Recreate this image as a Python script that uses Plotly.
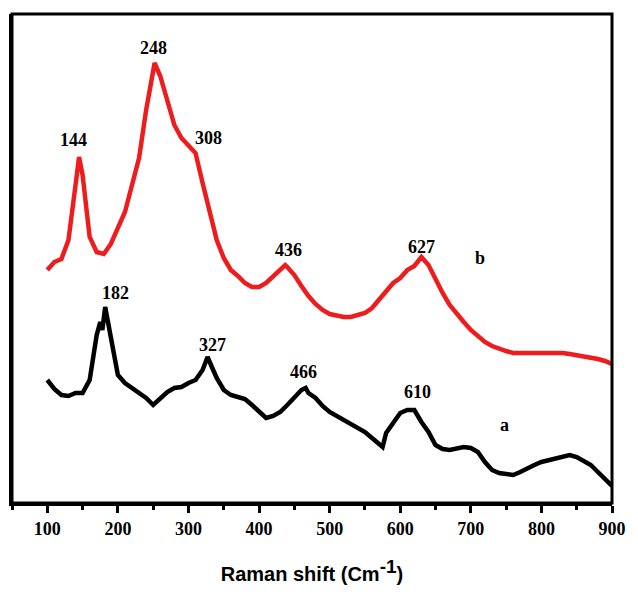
import plotly.graph_objects as go

# Raman shift (cm^-1)
shift_b = [100, 110, 120, 130, 140, 145, 150, 160, 170, 180, 190, 200, 210, 220, 230, 240, 250, 252,
           260, 270, 280, 290, 300, 310, 320, 330, 340, 350, 360, 370, 380, 390, 400, 410, 420, 430,
           437, 440, 450, 460, 470, 480, 490, 500, 510, 520, 530, 540, 550, 560, 570, 580, 590, 600,
           610, 620, 630, 640, 650, 660, 670, 680, 690, 700, 710, 720, 730, 740, 750, 760, 770, 780,
           790, 800, 810, 820, 830, 840, 850, 860, 870, 880, 890, 900]
# intensity (a.u.) of sample b (red)
int_b = [233, 241, 244, 263, 318, 346, 328, 266, 251, 249, 259, 275, 291, 318, 345, 393, 435, 440,
         427, 403, 378, 365, 358, 350, 320, 293, 263, 245, 233, 227, 220, 216, 216, 220, 227, 233,
         238, 236, 228, 217, 207, 199, 193, 189, 187, 186, 186, 188, 190, 195, 203, 211, 220, 225,
         233, 237, 246, 238, 223, 210, 198, 189, 181, 173, 167, 161, 157, 154, 152, 150, 150, 151,
         151, 151, 151, 151, 150, 149, 148, 147, 146, 144, 142, 139]

shift_a = [100, 110, 120, 130, 140, 150, 160, 165, 170, 175, 178, 182, 190, 200, 210, 220, 230, 240,
           250, 260, 270, 280, 290, 300, 310, 320, 327, 335, 340, 350, 360, 370, 380, 390, 400, 410,
           420, 430, 440, 450, 460, 466, 470, 480, 490, 500, 510, 520, 530, 540, 550, 560, 570, 575,
           580, 590, 600, 610, 620, 630, 640, 650, 660, 670, 680, 690, 700, 710, 720, 730, 740, 750,
           760, 770, 780, 790, 800, 810, 820, 830, 840, 850, 860, 870, 880, 890, 900]
# intensity (a.u.) of sample a (black)
int_a = [123, 114, 108, 107, 110, 110, 123, 143, 168, 181, 173, 196, 165, 128, 120, 115, 110, 105,
         98, 105, 111, 115, 116, 120, 123, 133, 146, 133, 125, 113, 108, 106, 104, 98, 91, 85,
         87, 91, 98, 105, 113, 115, 110, 105, 97, 91, 87, 83, 80, 75, 71, 65, 58, 56,
         70, 81, 90, 93, 93, 81, 71, 58, 54, 53, 55, 56, 55, 51, 41, 33, 30, 29,
         28, 31, 35, 38, 41, 43, 45, 47, 48, 46, 42, 38, 31, 24, 17]

tick_vals = [100, 200, 300, 400, 500, 600, 700, 800, 900]
tick_text = ["<b>%d</b>" % v for v in tick_vals]

peak_labels = ["248", "144", "308", "436", "627", "182", "327", "466", "610"]
peak_x = [250, 137, 328, 442, 630, 196, 334, 463, 625]
peak_y = [455, 363, 365, 253, 256, 210, 158, 131, 111]
curve_names = ["b", "a"]
curve_x = [713, 747]
curve_y = [245, 78]

fig = go.Figure()
fig.add_trace(go.Scatter(x=shift_a, y=int_a, mode="lines",
                         line=dict(color="#000000", width=4.5), showlegend=False))
fig.add_trace(go.Scatter(x=shift_b, y=int_b, mode="lines",
                         line=dict(color="#ee1c1c", width=4.5), showlegend=False))

serif_bold = dict(family="Liberation Serif", size=18, color="black")
for t, x, y in zip(peak_labels + curve_names, peak_x + curve_x, peak_y + curve_y):
    fig.add_annotation(x=x, y=y, text="<b>%s</b>" % t, showarrow=False, font=serif_bold)

# plot frame
fig.add_shape(type="rect", xref="paper", yref="paper", x0=0, x1=1, y0=0, y1=1,
              line=dict(color="black", width=3), layer="above")

fig.update_layout(
    width=638, height=595,
    margin=dict(l=12, r=21, t=14, b=92),
    plot_bgcolor="white", paper_bgcolor="white",
    xaxis=dict(
        range=[50, 900], tickmode="array", tickvals=tick_vals, ticktext=tick_text,
        ticks="outside", ticklen=7, tickwidth=2.5, tickcolor="black",
        minor=dict(ticks="outside", dtick=50, tick0=50, ticklen=4, tickwidth=2.5, tickcolor="black"),
        showline=True, linewidth=3, linecolor="black",
        showgrid=False, zeroline=False,
        tickfont=dict(family="Liberation Serif", size=18, color="black"),
        title=dict(text="<b>Raman shift (Cm<sup><span style='font-size:19px'>-1</span></sup>)</b>",
                   font=dict(family="Liberation Sans", size=20, color="black"),
                   standoff=30),
    ),
    yaxis=dict(
        range=[0, 489], showticklabels=False, ticks="",
        showline=True, linewidth=3, linecolor="black",
        showgrid=False, zeroline=False,
    ),
)

fig.write_html("out.html")
